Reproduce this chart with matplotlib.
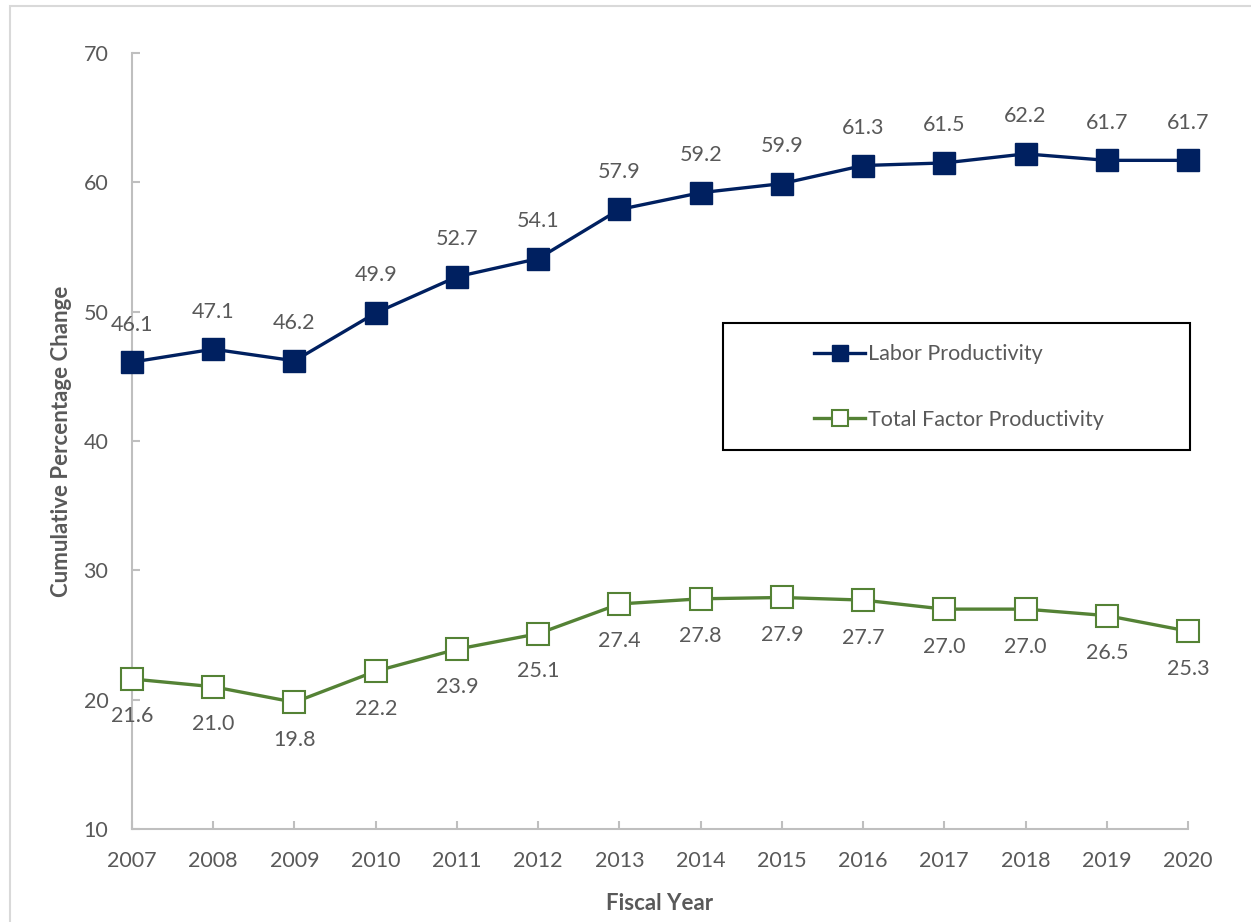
import numpy as np
import matplotlib
matplotlib.use("Agg")
from matplotlib import pyplot as plt
from matplotlib.patches import Rectangle

years = [2007, 2008, 2009, 2010, 2011, 2012, 2013, 2014, 2015, 2016, 2017, 2018, 2019, 2020]
labor = [46.1, 47.1, 46.2, 49.9, 52.7, 54.1, 57.9, 59.2, 59.9, 61.3, 61.5, 62.2, 61.7, 61.7]
tfp = [21.6, 21.0, 19.8, 22.2, 23.9, 25.1, 27.4, 27.8, 27.9, 27.7, 27.0, 27.0, 26.5, 25.3]
y_ticks = [10, 20, 30, 40, 50, 60, 70]

navy = "#002060"
green = "#548235"
text_gray = "#595959"
axis_gray = "#bfbfbf"

plt.rcParams["font.family"] = ["Lato", "DejaVu Sans"]

W, H = 1251, 922
fig = plt.figure(figsize=(W / 100, H / 100), dpi=100)
ax = fig.add_axes([132 / W, 1 - 829 / H, (1188 - 132) / W, (829 - 53) / H])

# outer chart border (Excel style)
fig.patches.append(Rectangle((10 / W, -0.05), 1.2, 1 - 6 / H + 0.05, transform=fig.transFigure,
                             fill=False, edgecolor="#d9d9d9", linewidth=1.5))

ax.plot(years, labor, color=navy, linewidth=2.4, marker="s", markersize=16.5,
        markerfacecolor=navy, markeredgecolor=navy, label="Labor Productivity", zorder=3)
ax.plot(years, tfp, color=green, linewidth=2.4, marker="s", markersize=16.5,
        markerfacecolor="white", markeredgecolor=green, markeredgewidth=1.5,
        label="Total Factor Productivity", zorder=3)

for x, v in zip(years, labor):
    ax.annotate(f"{v:.1f}", (x, v), xytext=(0, 27), textcoords="offset points",
                ha="center", va="center", fontsize=15.5, color=text_gray)
for x, v in zip(years, tfp):
    ax.annotate(f"{v:.1f}", (x, v), xytext=(0, -27), textcoords="offset points",
                ha="center", va="center", fontsize=15.5, color=text_gray)

ax.set_xlim(years[0], years[-1])
ax.set_ylim(10, 70)
ax.set_yticks(y_ticks)
ax.set_xticks(years)
ax.set_xticklabels([str(y) for y in years])

for side in ["top", "right"]:
    ax.spines[side].set_visible(False)
for side in ["left", "bottom"]:
    ax.spines[side].set_color(axis_gray)
    ax.spines[side].set_linewidth(1.5)
ax.tick_params(axis="both", direction="in", length=6, width=1.5, color=axis_gray,
               labelsize=15.5, labelcolor=text_gray)
ax.tick_params(axis="y", pad=17)
ax.tick_params(axis="x", pad=16)
for line in ax.lines:
    line.set_clip_on(False)

ax.set_xlabel("Fiscal Year", fontsize=16, fontweight="bold", color=text_gray, labelpad=16)
ax.set_ylabel("Cumulative Percentage Change", fontsize=16, fontweight="bold", color=text_gray, labelpad=8)

# legend box drawn separately so the entries can sit left of centre like the original
fig.patches.append(Rectangle((723 / W, 1 - 450 / H), (1190 - 723) / W, (450 - 323) / H,
                             transform=fig.transFigure, fill=False, edgecolor="black",
                             linewidth=1.5, zorder=5))
leg = ax.legend(loc="center left", bbox_to_anchor=(803 / W, 1 - 387 / H),
                bbox_transform=fig.transFigure, frameon=False, fontsize=15.5,
                labelspacing=2.1, handlelength=2.4, handletextpad=0.1, borderpad=0)
for t in leg.get_texts():
    t.set_color(text_gray)
for h in leg.legend_handles:
    h.set_markersize(12)

fig.savefig("out.png", dpi=100)
